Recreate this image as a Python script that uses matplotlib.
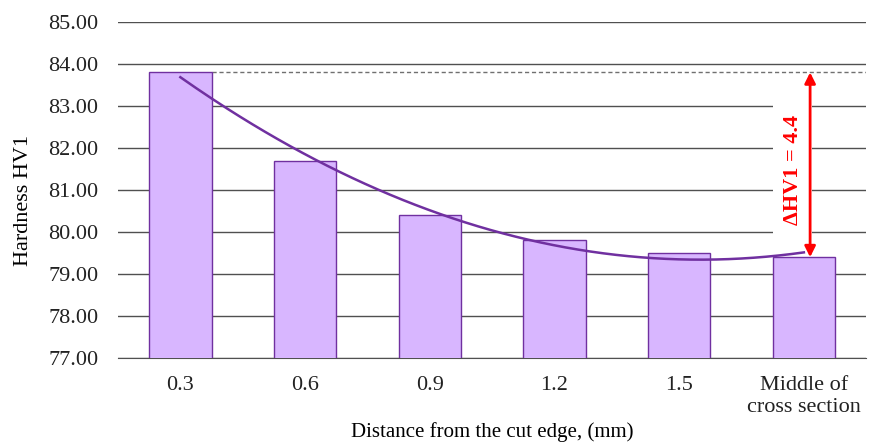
import numpy as np
import matplotlib
matplotlib.use('Agg')
import matplotlib.pyplot as plt

plt.rcParams['font.family'] = ['Liberation Serif', 'DejaVu Serif']

categories = ['0.3', '0.6', '0.9', '1.2', '1.5', 'Middle of\ncross section']
hardness = [83.8, 81.7, 80.4, 79.8, 79.5, 79.4]
delta_label = '\u0394HV1 = 4.4'

BAR_FILL = '#D8B6FF'
PURPLE = '#7030A0'
GRID = '#505050'

fig = plt.figure(figsize=(8.69, 4.48), dpi=100)
ax = fig.add_axes([0.1358, 0.2009, 0.8610, 0.7500])

x = np.arange(len(categories))
ax.bar(x, hardness, width=0.5, color=BAR_FILL, edgecolor=PURPLE, linewidth=1, zorder=3)

# second order polynomial trend through the bar tops
coef = np.polyfit(x, hardness, 2)
xs = np.linspace(x[0], x[-1], 200)
ax.plot(xs, np.polyval(coef, xs), color=PURPLE, lw=1.8, zorder=4)

ax.set_xlim(-0.5, len(categories) - 0.5)
ax.set_ylim(77, 85)
ax.set_yticks(np.arange(77, 85.01, 1))
ax.yaxis.set_major_formatter(matplotlib.ticker.FormatStrFormatter('%.2f'))
ax.set_xticks(x)
ax.set_xticklabels(categories)
ax.tick_params(length=0, labelsize=16, colors='#222222')
ax.tick_params(axis='x', pad=13)
ax.tick_params(axis='y', pad=14)
ax.grid(axis='y', color=GRID, lw=1, zorder=0)
for side in ['left', 'right', 'top']:
    ax.spines[side].set_visible(False)
ax.spines['bottom'].set_color(GRID)

# reference level of the first point and the drop to the middle
top, bottom = hardness[0], hardness[-1]
ax.plot([0.25, 5.95], [top, top], color='#707070', lw=1, ls=(0, (3, 2)), zorder=2)
ax.text(4.91, 81.48, delta_label, rotation=90, color='red', fontsize=16,
        fontweight='bold', ha='center', va='center', zorder=5,
        bbox=dict(facecolor='white', edgecolor='none', pad=7))
ax.annotate('', xy=(5.05, bottom), xytext=(5.05, top),
            arrowprops=dict(arrowstyle='<|-|>', color='red', lw=2,
                            mutation_scale=16, shrinkA=0, shrinkB=0), zorder=6)

ax.set_ylabel('Hardness HV1', fontsize=16)
ax.yaxis.set_label_coords(-0.114, 0.47)
ax.set_xlabel('Distance from the cut edge, (mm)', fontsize=15, labelpad=4)

fig.savefig('out.png', dpi=100)
